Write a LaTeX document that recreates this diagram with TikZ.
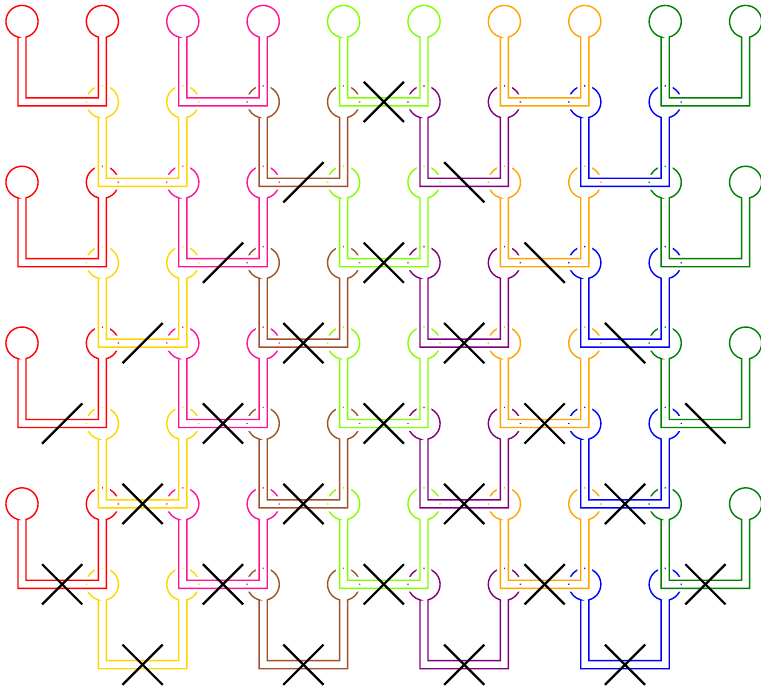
\documentclass[tikz,border=0pt]{standalone}
\usepackage{xcolor}
\usepackage{tikz}

\definecolor{tubered}{RGB}{255,0,0}
\definecolor{tubepink}{RGB}{255,20,147}
\definecolor{tubelime}{RGB}{127,255,0}
\definecolor{tubeorange}{RGB}{255,165,0}
\definecolor{tubegreen}{RGB}{0,128,0}
\definecolor{tubeyellow}{RGB}{255,215,0}
\definecolor{tubebrown}{RGB}{160,82,45}
\definecolor{tubepurple}{RGB}{128,0,128}
\definecolor{tubeblue}{RGB}{0,0,255}

% #1 = left column, #2 = row, #3 = colour
\newcommand{\utube}[3]{%
  \draw[tube, #3]
    (#1-0.05,-#2-0.19365) -- (#1-0.05,-#2-1.05) -- (#1+1.05,-#2-1.05)
    -- (#1+1.05,-#2-0.19365)
    arc[start angle=-75.52, end angle=255.52, radius=0.2]
    -- (#1+0.95,-#2-0.95) -- (#1+0.05,-#2-0.95) -- (#1+0.05,-#2-0.19365)
    arc[start angle=-75.52, end angle=255.52, radius=0.2]
    -- cycle;
}

\begin{document}
\begin{tikzpicture}[
      x=2cm, y=2cm,
      tube/.style={
        line width=1pt,
        preaction={draw=white, line width=4.8pt}
      },
      cutline/.style={
        black,
        line width=1.6pt
      }
    ]

    \useasboundingbox (-0.2736,0.2674) rectangle (9.1915,-8.2898);

    % lower rows first, so the upper tubes lie on top
    \foreach \r in {7,6,...,0}{
      \ifodd\r
        \foreach \a/\c in {1/tubeyellow,3/tubebrown,5/tubepurple,7/tubeblue}
          {\utube{\a}{\r}{\c}}
      \else
        \foreach \a/\c in {0/tubered,2/tubepink,4/tubelime,6/tubeorange,8/tubegreen}
          {\utube{\a}{\r}{\c}}
      \fi
    }

    % cuts
    \foreach \x/\y in {4.5/1, 3.5/2, 2.5/3, 4.5/3, 1.5/4, 3.5/4, 5.5/4, 0.5/5, 2.5/5,
                       4.5/5, 6.5/5, 1.5/6, 3.5/6, 5.5/6, 7.5/6, 0.5/7, 2.5/7, 4.5/7,
                       6.5/7, 8.5/7, 1.5/8, 3.5/8, 5.5/8, 7.5/8}
      \draw[cutline] (\x-0.25,-\y-0.25) -- (\x+0.25,-\y+0.25);

    \foreach \x/\y in {4.5/1, 5.5/2, 4.5/3, 6.5/3, 3.5/4, 5.5/4, 7.5/4, 2.5/5, 4.5/5,
                       6.5/5, 8.5/5, 1.5/6, 3.5/6, 5.5/6, 7.5/6, 0.5/7, 2.5/7, 4.5/7,
                       6.5/7, 8.5/7, 1.5/8, 3.5/8, 5.5/8, 7.5/8}
      \draw[cutline] (\x-0.25,-\y+0.25) -- (\x+0.25,-\y-0.25);

\end{tikzpicture}
\end{document}
